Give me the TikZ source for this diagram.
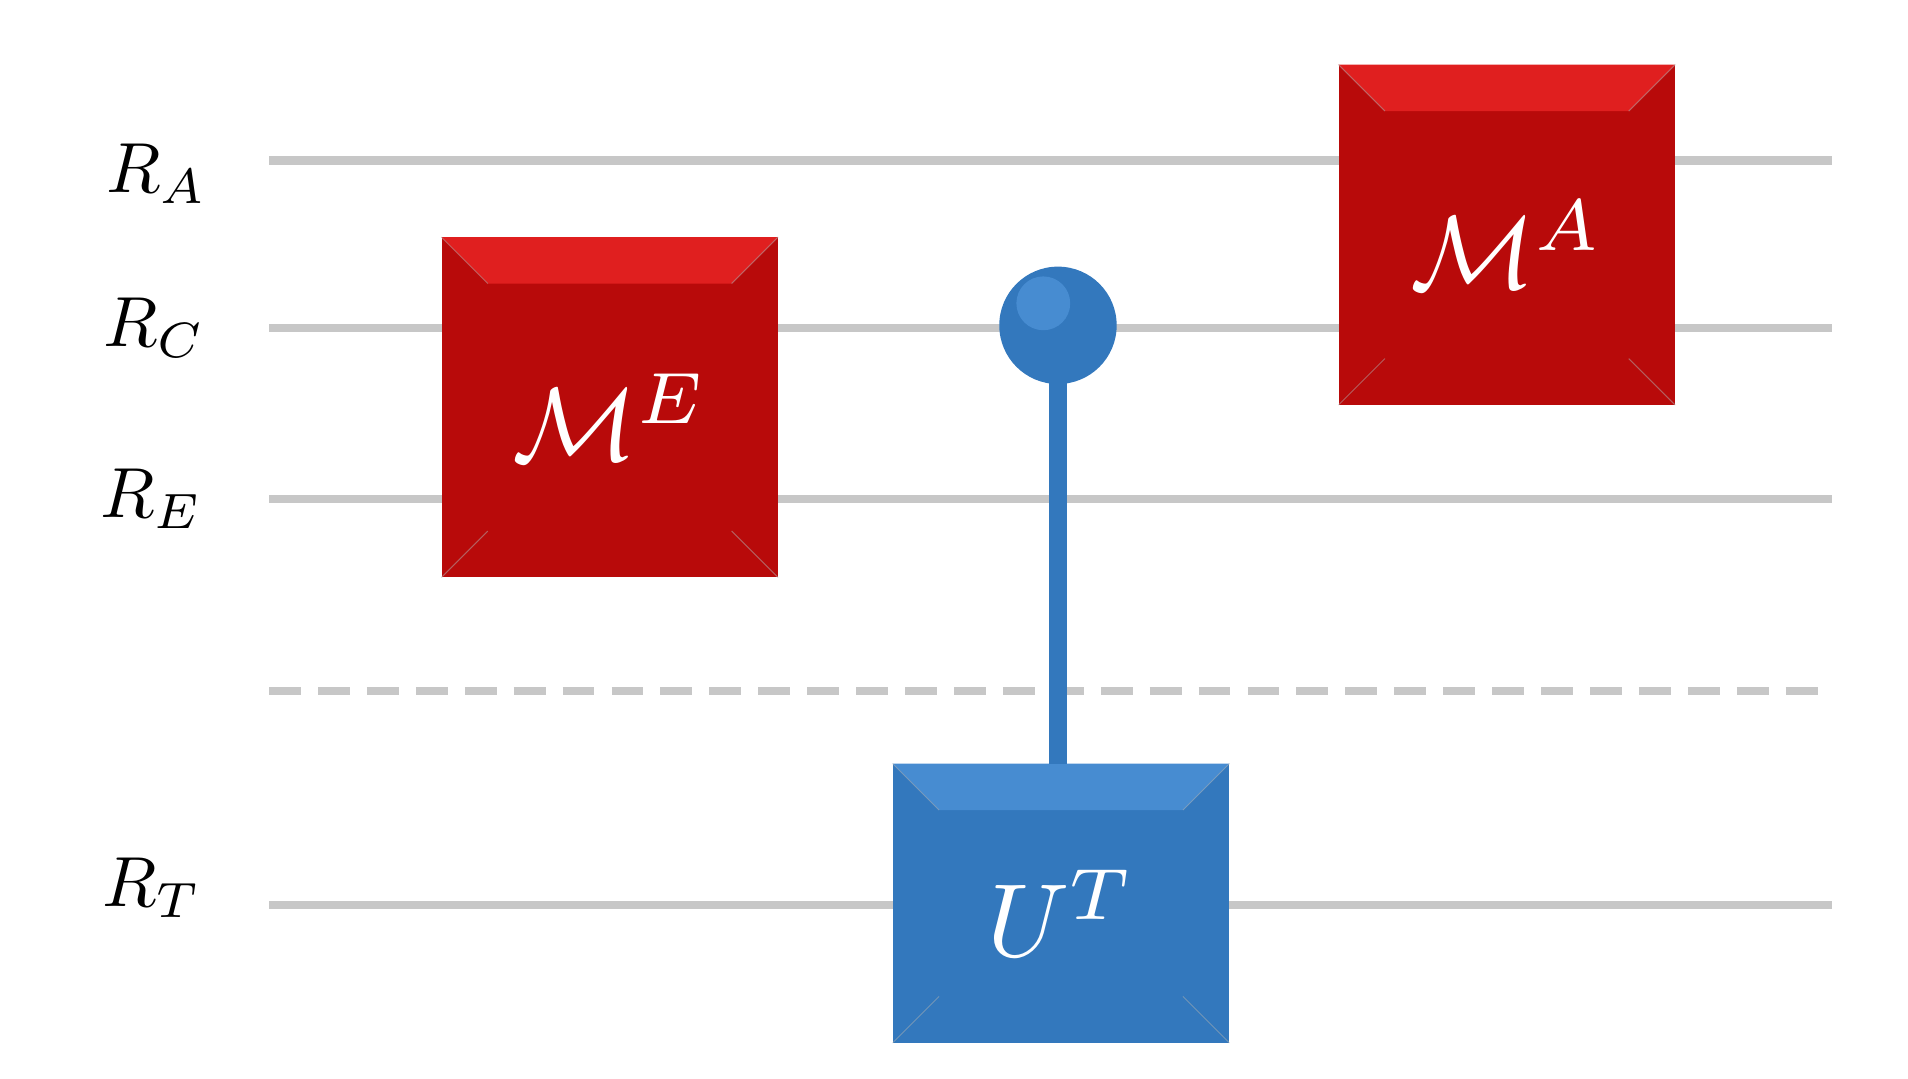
\documentclass[tikz,border=0pt]{standalone}
\usepackage{amsmath}
\usetikzlibrary{positioning,calc}
\definecolor{wiregray}{rgb}{0.78,0.78,0.78}
\definecolor{gatered}{rgb}{0.72,0.04,0.04}
\definecolor{gateredlt}{rgb}{0.88,0.12,0.12}
\definecolor{gateblue}{rgb}{0.20,0.47,0.74}
\definecolor{gatebluelt}{rgb}{0.28,0.55,0.82}
\tikzset{
  wire/.style={draw=wiregray,line width=7pt},
  gatebox/.style={rectangle,minimum width=275pt,minimum height=278pt,inner sep=0pt,
    text=white},
  redgate/.style={gatebox,fill=gatered},
  bluegate/.style={gatebox,fill=gateblue,minimum height=228pt},
  reglabel/.style={},
}
\newcommand{\bevel}[2]{%
  \fill[#2] (#1.north west) -- (#1.north east) -- ($(#1.north east)+(-38pt,-38pt)$) -- ($(#1.north west)+(38pt,-38pt)$) -- cycle;
  \draw[black!30,line width=0.8pt,opacity=0.5] (#1.north west) -- ++(38pt,-38pt) (#1.north east) -- ++(-38pt,-38pt)
    (#1.south west) -- ++(38pt,38pt) (#1.south east) -- ++(-38pt,38pt);
}
\newcommand{\gatetext}[1]{\scalebox{8.5}{$#1$}}
\newcommand{\regtext}[1]{\scalebox{5.8}{$#1$}}
\begin{document}
\begin{tikzpicture}[x=1pt,y=-1pt]
  \useasboundingbox (0,0) rectangle (1560,882);
  % wires
  \coordinate (a0) at (220,131);  \coordinate (a1) at (1498,131);
  \coordinate (c0) at (220,268);  \coordinate (c1) at (1498,268);
  \coordinate (e0) at (220,408);  \coordinate (e1) at (1498,408);
  \coordinate (d0) at (220,565);  \coordinate (d1) at (1498,565);
  \coordinate (t0) at (220,740);  \coordinate (t1) at (1498,740);
  \draw[wire] (a0) -- (a1);
  \draw[wire] (c0) -- (c1);
  \draw[wire] (e0) -- (e1);
  \draw[wire,dash pattern=on 26pt off 14pt] (d0) -- (d1);
  \draw[wire] (t0) -- (t1);
  % labels
  \node[reglabel] (la) at (128,142) {\regtext{R_A}};
  \node[reglabel] (lc) at (126,268) {\regtext{R_C}};
  \node[reglabel] (le) at (124,408) {\regtext{R_E}};
  \node[reglabel] (lt) at (124,726) {\regtext{R_T}};
  % gates
  \node[redgate] (ME) at (498.5,333) {};
  \bevel{ME}{gateredlt}
  \node[text=white] at ([yshift=-8pt]ME.center) {\gatetext{\mathcal{M}^{E}}};
  \node[redgate] (MA) at (1232,192) {};
  \bevel{MA}{gateredlt}
  \node[text=white] at ([yshift=-8pt]MA.center) {\gatetext{\mathcal{M}^{A}}};
  \node[bluegate] (UT) at (867.5,738.5) {};
  \bevel{UT}{gatebluelt}
  \node[text=white] at ([yshift=-8pt]UT.center) {\gatetext{U^{T}}};
  % control
  \draw[gateblue,line width=14pt] (865,290) -- (UT.north -| 865,0);
  \node[circle,fill=gateblue,minimum size=96pt,inner sep=0pt] (ctl) at (865,266) {};
  \fill[gatebluelt] (ctl.center) ++(-12pt,18pt) circle (22pt);
\end{tikzpicture}
\end{document}
